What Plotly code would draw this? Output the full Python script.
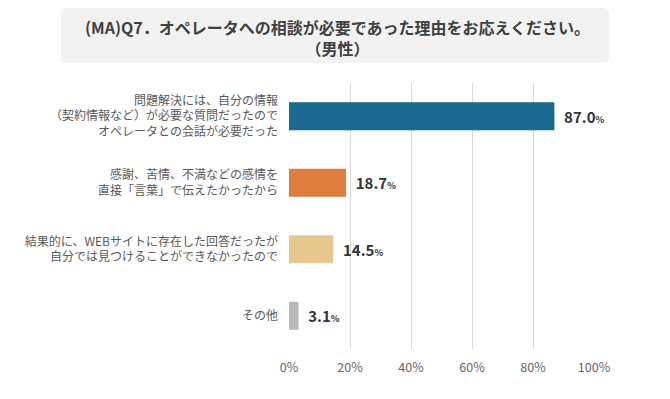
import plotly.graph_objects as go

categories = [
    "問題解決には、自分の情報<br>（契約情報など）が必要な質問だったので<br>オペレータとの会話が必要だった",
    "感謝、苦情、不満などの感情を<br>直接「言葉」で伝えたかったから",
    "結果的に、WEBサイトに存在した回答だったが<br>自分では見つけることができなかったので",
    "その他",
]
values = [87.0, 18.7, 14.5, 3.1]
colors = ["#196991", "#df7d3e", "#e6c88f", "#b9b9b9"]
tick_vals = [0, 20, 40, 60, 80, 100]
tick_text = ["0%", "20%", "40%", "60%", "80%", "100%"]
title_lines = ["(MA)Q7．オペレータへの相談が必要であった理由をお応えください。", "（男性）"]

FONT = "Noto Sans CJK JP"
OFF = 8  # page body margin offset
W, H = 670 - OFF, 399 - OFF
L, T = 289 - OFF, 83 - OFF
R = W - (594 - OFF)
B = H - (349 - OFF)
PW, PH = W - L - R, H - T - B

def px2x(px):
    return (px - OFF - L) / PW

def py2y(py):
    return (H - B - (py - OFF)) / PH

labels = [f"  <b>{v:.1f}</b><span style='font-size:9px'><b>%</b></span>" for v in values]

fig = go.Figure(go.Bar(
    x=values, y=categories, orientation="h",
    marker=dict(color=colors, line=dict(width=0)),
    width=0.42,
    text=labels, textposition="outside", cliponaxis=False,
    textfont=dict(family=FONT, size=15, color="#333333"),
))

fig.update_layout(
    width=W, height=H,
    margin=dict(l=L, r=R, t=T, b=B, autoexpand=False),
    paper_bgcolor="white", plot_bgcolor="white",
    showlegend=False,
    font=dict(family=FONT),
    xaxis=dict(range=[0, 100], tickvals=tick_vals, ticktext=tick_text,
               showgrid=True, gridcolor="#d9d9d9", gridwidth=1,
               zeroline=False, showline=False, automargin=False,
               tickfont=dict(size=12.5, color="#666666"), ticklen=0,
               ticklabelstandoff=9),
    yaxis=dict(autorange="reversed", showgrid=False, showline=False,
               automargin=False,
               tickfont=dict(size=12, color="#595959"), ticks="",
               ticklabelstandoff=10),
)

# title box with rounded corners (screen pixel coords converted to paper)
x0, x1, y0, y1, r = 61, 609, 8, 63, 6
pts = lambda X, Y: f"{px2x(X)},{py2y(Y)}"
path = (f"M {pts(x0+r, y0)} L {pts(x1-r, y0)} Q {pts(x1, y0)} {pts(x1, y0+r)} "
        f"L {pts(x1, y1-r)} Q {pts(x1, y1)} {pts(x1-r, y1)} "
        f"L {pts(x0+r, y1)} Q {pts(x0, y1)} {pts(x0, y1-r)} "
        f"L {pts(x0, y0+r)} Q {pts(x0, y0)} {pts(x0+r, y0)} Z")
fig.add_shape(type="path", path=path, xref="paper", yref="paper",
              fillcolor="#f2f2f2", line=dict(width=0), layer="below")

fig.add_annotation(
    text="<br>".join("<b>" + t + "</b>" for t in title_lines),
    xref="paper", yref="paper", x=px2x(337), y=py2y(38),
    xanchor="center", yanchor="middle", borderpad=0,
    showarrow=False, font=dict(family=FONT, size=16, color="#404040"),
    align="center",
)

fig.write_html("out.html")
